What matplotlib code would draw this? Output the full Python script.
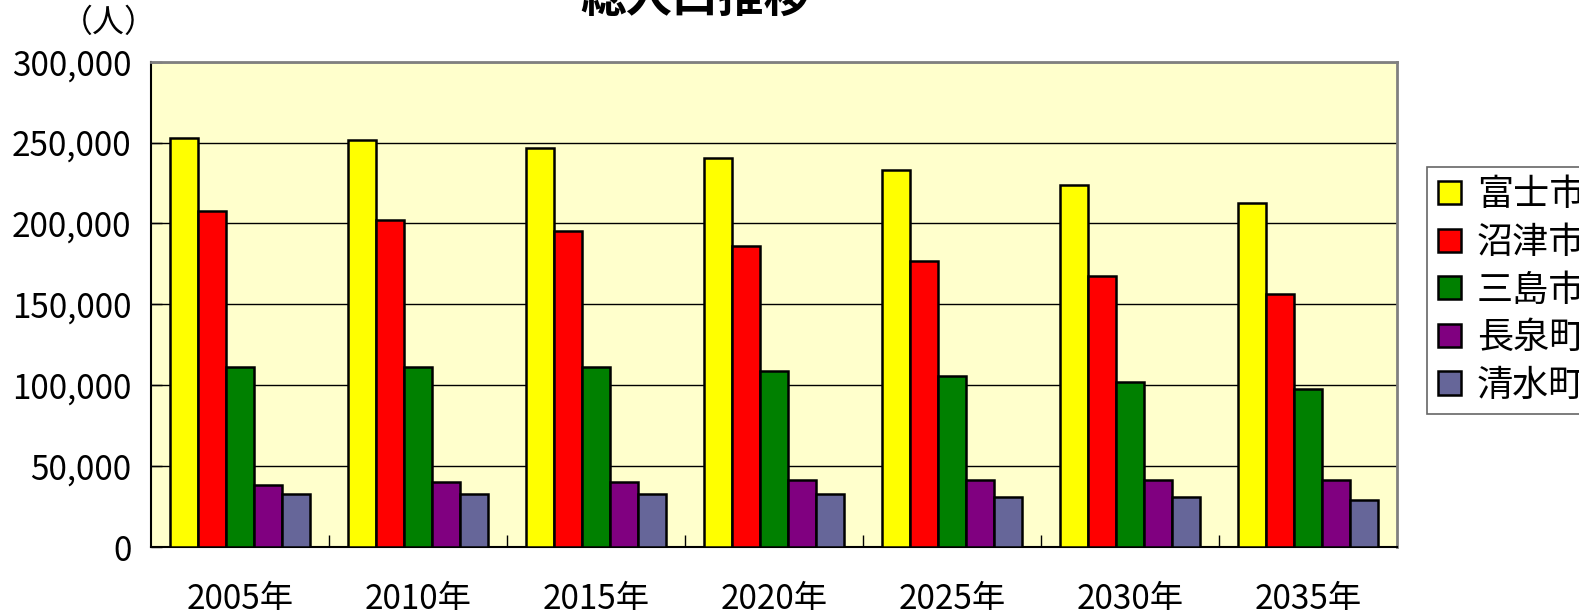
import numpy as np
import matplotlib
matplotlib.use("Agg")
import matplotlib.pyplot as plt
from matplotlib.ticker import FuncFormatter, FixedLocator

plt.rcParams["font.family"] = ["Noto Sans CJK JP", "DejaVu Sans"]

years = ["2005年", "2010年", "2015年", "2020年", "2025年", "2030年", "2035年"]
names = ["富士市", "沼津市", "三島市", "長泉町", "清水町"]
fuji = [253100, 251400, 246700, 240700, 232900, 223600, 212700]
numazu = [208000, 202000, 195600, 186100, 176800, 167600, 156600]
mishima = [111500, 111500, 111500, 108800, 105500, 102200, 97700]
nagaizumi = [38700, 40200, 40200, 41600, 41600, 41600, 41600]
shimizu = [32600, 32600, 32600, 32600, 30900, 30900, 29300]
series = [fuji, numazu, mishima, nagaizumi, shimizu]
colors = ["#FFFF00", "#FF0000", "#008000", "#800080", "#666699"]

fig = plt.figure(figsize=(15.79, 6.10), dpi=100)
ax = fig.add_axes([0.0956, 0.103, 0.885 - 0.0956, 0.899 - 0.103])
ax.set_facecolor("#FFFFCC")

x = np.arange(len(years))
w = 0.157
for i, (vals, c, n) in enumerate(zip(series, colors, names)):
    ax.bar(x + (i - 2) * w, vals, width=w, color=c, edgecolor="black",
           linewidth=1.8, label=n, zorder=3)

ax.set_xlim(-0.5, len(years) - 0.5)
ax.set_ylim(0, 300000)
ax.set_yticks(np.arange(0, 300001, 50000))
ax.yaxis.set_major_formatter(FuncFormatter(lambda v, p: f"{int(v):,}"))
ax.grid(axis="y", color="black", linewidth=1.0, zorder=1)
ax.set_xticks(x)
ax.set_xticklabels(years)
ax.xaxis.set_minor_locator(FixedLocator(np.arange(0.5, len(years) - 0.5, 1)))
ax.tick_params(axis="x", which="major", length=0, pad=25, labelsize=24)
ax.tick_params(axis="x", which="minor", direction="in", length=9, width=1)
ax.tick_params(axis="y", direction="in", length=8, width=1, pad=14, labelsize=24)

for s in ["top", "right"]:
    ax.spines[s].set_color("#808080")
    ax.spines[s].set_linewidth(2)
for s in ["left", "bottom"]:
    ax.spines[s].set_color("black")
    ax.spines[s].set_linewidth(1.5)

fig.text(0.069, 0.962, "（人）", fontsize=23, ha="center", va="center")
fig.text(0.44, 1.0, "総人口推移", fontsize=33, fontweight="bold",
         ha="center", va="center")

leg = ax.legend(loc="upper left", bbox_to_anchor=(0.904, 0.727),
                bbox_transform=fig.transFigure, fontsize=26, frameon=True,
                fancybox=False, edgecolor="#404040", handlelength=0.62,
                handleheight=0.62, handletextpad=0.45, labelspacing=0.32,
                borderpad=0.3, borderaxespad=0)
leg.get_frame().set_linewidth(1.2)

fig.savefig("out.png", dpi=100)
